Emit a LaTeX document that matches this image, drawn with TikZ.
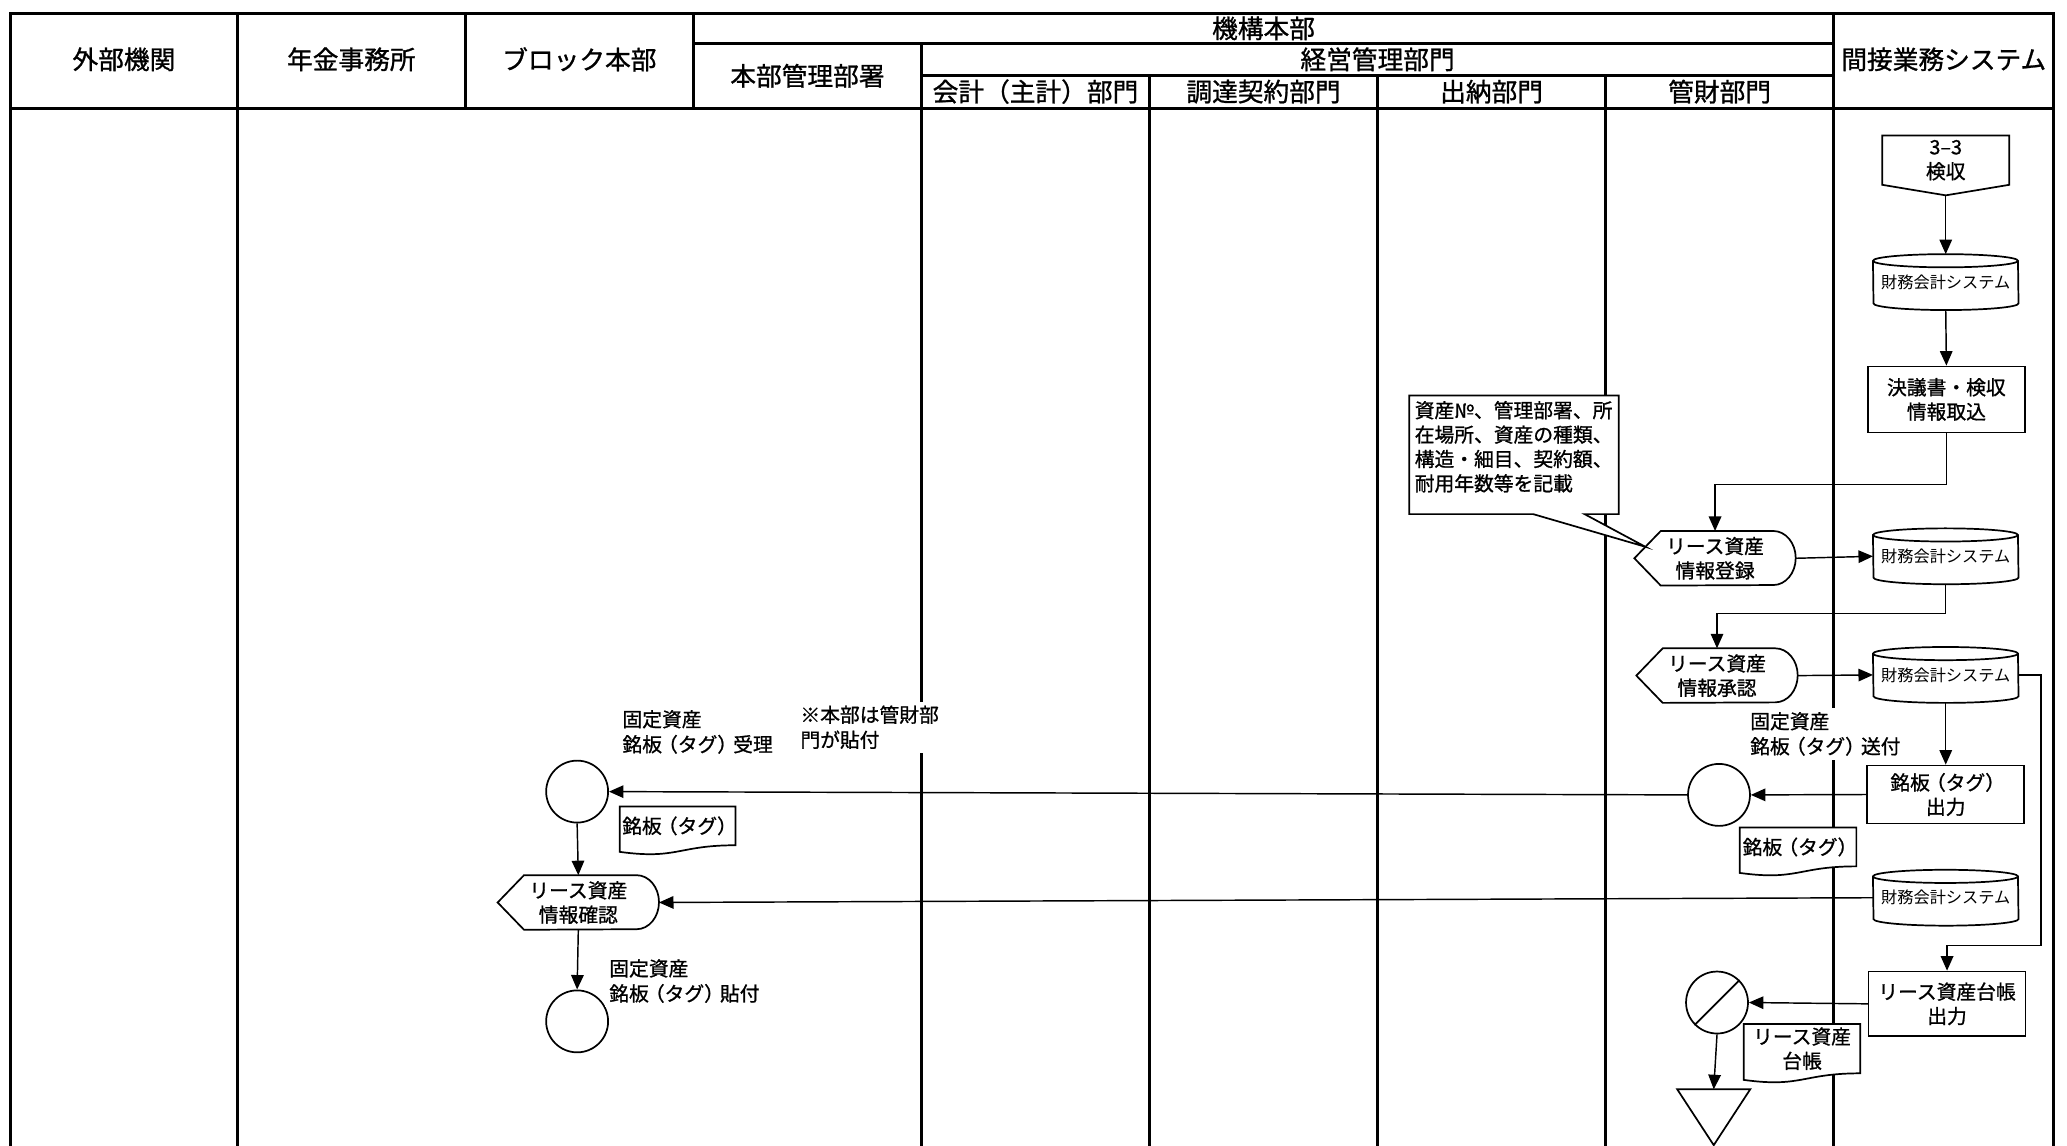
\documentclass[tikz,border=0pt]{standalone}
\usepackage{fontspec}
\setmainfont{Noto Sans CJK JP}[FakeBold=1.0]
\newfontfamily\thinjp{Noto Sans CJK JP}
\usetikzlibrary{arrows.meta,calc}
\pgfdeclarelayer{back}
\pgfdeclarelayer{mid}
\pgfsetlayers{back,mid,main}
\newcommand\myLP{\kern-3pt（}
\newcommand\myRP{）\kern-3pt}
\tikzset{
  lane/.style={line width=2.2pt,line join=miter},
  conn/.style={line width=1.1pt},
  arr/.style={conn,-{Triangle[length=11pt,width=9.5pt]}},
  shp/.style={line width=1.3pt,fill=white,line join=miter},
  hdr/.style={font=\fontsize{19.5}{22}\selectfont,inner sep=0pt},
  box/.style={draw,line width=1.3pt,fill=white,font=\fontsize{15}{18.5}\selectfont,align=center,inner sep=0pt,minimum width=119pt,minimum height=#1},
  slot/.style={inner sep=0pt,font=\fontsize{15}{18.5}\selectfont,align=center},
  sys/.style={inner sep=0pt,font=\thinjp\fontsize{12.3}{14}\selectfont,minimum width=110pt,minimum height=42pt},
  lbl/.style={fill=white,inner sep=3pt,font=\fontsize{15}{19}\selectfont,align=left,anchor=north west},
  circ/.style={circle,draw,line width=1.3pt,fill=white,minimum size=47pt,inner sep=0pt},
}
\newcommand\mkcyl[1]{\begin{pgfonlayer}{mid}
  \draw[shp] ([yshift=-5pt]#1.north west) arc[start angle=180,end angle=0,x radius=55pt,y radius=5pt]
    -- ([yshift=5pt]#1.south east) arc[start angle=0,end angle=-180,x radius=55pt,y radius=5pt] -- cycle;
  \draw[shp,fill=none] ([yshift=-5pt]#1.north west) arc[start angle=180,end angle=360,x radius=55pt,y radius=5pt];
\end{pgfonlayer}}
\newcommand\mkdisp[1]{\begin{pgfonlayer}{mid}
  \draw[shp] (#1.west) -- ([xshift=20pt]#1.north west) -- ([xshift=-17pt]#1.north east)
    arc[start angle=90,end angle=-90,x radius=17pt,y radius=20.5pt] -- ([xshift=20pt]#1.south west) -- cycle;
\end{pgfonlayer}}
\newcommand\mkdoc[1]{\begin{pgfonlayer}{mid}
  \draw[shp] (#1.north west) -- (#1.north east) -- (#1.south east)
    .. controls (#1.south) and ([yshift=-11pt]#1.south) .. ([yshift=-5pt]#1.south west) -- cycle;
\end{pgfonlayer}}
\newcommand\mkoff[1]{\begin{pgfonlayer}{mid}
  \draw[shp] (#1.north west) -- (#1.north east) -- (#1.south east) -- ([yshift=-8pt]#1.south) -- (#1.south west) -- cycle;
\end{pgfonlayer}}
\newcommand\mktri[1]{\begin{pgfonlayer}{mid}
  \draw[shp] (#1.north west) -- (#1.north east) -- (#1.south) -- cycle;
\end{pgfonlayer}}
\begin{document}
\begin{tikzpicture}[x=1pt,y=-1pt]
\begin{pgfonlayer}{back}
\fill[white] (0,0) rectangle (1568,869);
\end{pgfonlayer}
\useasboundingbox (0,0) rectangle (1568,869);
% ---------- lanes ----------
\begin{pgfonlayer}{back}
\draw[lane] (8,872) -- (8,10) -- (1558,10) -- (1558,872);
\draw[lane] (8,82) -- (1558,82);
\draw[lane] (180,10) -- (180,872);
\draw[lane] (353,10) -- (353,82);
\draw[lane] (526,10) -- (526,82);
\draw[lane] (526,33) -- (1391,33);
\draw[lane] (699,57) -- (1391,57);
\draw[lane] (699,33) -- (699,872);
\draw[lane] (872,57) -- (872,872);
\draw[lane] (1045,57) -- (1045,872);
\draw[lane] (1218,57) -- (1218,872);
\draw[lane] (1391,10) -- (1391,872);
\end{pgfonlayer}
% ---------- headers ----------
\node[hdr] (hA) at (94,45) {外部機関};
\node[hdr] (hB) at (266.5,45) {年金事務所};
\node[hdr] (hC) at (439.5,45) {ブロック本部};
\node[hdr] (hD) at (612.5,57.5) {本部管理部署};
\node[hdr] (hE) at (958.5,21.5) {機構本部};
\node[hdr] (hF) at (1045,45) {経営管理部門};
\node[hdr] (hG) at (785.5,69.5) {会計（主計）部門};
\node[hdr] (hH) at (958.5,69.5) {調達契約部門};
\node[hdr] (hI) at (1131.5,69.5) {出納部門};
\node[hdr] (hJ) at (1304.5,69.5) {管財部門};
\node[hdr] (hK) at (1474.5,45) {間接業務システム};
% ---------- right column ----------
\node[slot,minimum width=96pt,minimum height=37pt] (op) at (1476,121.5) {3–3\\検収};
\mkoff{op}
\coordinate (opTip) at ([yshift=-8pt]op.south);
\node[sys] (cy1) at (1476,214) {財務会計システム}; \mkcyl{cy1}
\node[box=50pt] (b1) at (1476.5,303) {決議書・検収\\情報取込};
\node[slot,minimum width=122pt,minimum height=41pt] (h1) at (1301,423.5) {リース資産\\情報登録}; \mkdisp{h1}
\node[sys] (cy2) at (1476,422) {財務会計システム}; \mkcyl{cy2}
\node[slot,minimum width=122pt,minimum height=41pt] (h2) at (1302.5,512.5) {リース資産\\情報承認}; \mkdisp{h2}
\node[sys] (cy3) at (1476,512) {財務会計システム}; \mkcyl{cy3}
\node[box=44pt] (b2) at (1476,602.7) {銘板\myLP タグ\myRP\\出力};
\node[circ] (ci2) at (1304,603) {};
\node[slot,minimum width=88pt,minimum height=29pt] (d2) at (1364,642.5) {銘板\myLP タグ\myRP}; \mkdoc{d2}
\node[sys] (cy4) at (1476,681) {財務会計システム}; \mkcyl{cy4}
\node[box=49pt] (b3) at (1477,761.5) {リース資産台帳\\出力};
\node[circ] (cs) at (1302.5,760.5) {};
\draw[line width=1.3pt] (cs.south west) -- (cs.north east);
\node[slot,minimum width=88pt,minimum height=37pt] (d3) at (1367,795.5) {リース資産\\台帳}; \mkdoc{d3}
\node[inner sep=0pt,minimum width=55pt,minimum height=42pt] (tri) at (1300,847.5) {}; \mktri{tri}
% ---------- callout ----------
\coordinate (cbTip) at ($(h1.west)!0.42!([xshift=20pt]h1.north west)$);
\begin{pgfonlayer}{mid}
\draw[shp] (1069,300) -- (1228,300) -- (1228,390) -- (1202,390) -- (cbTip) -- (1163,390) -- (1069,390) -- cycle;
\end{pgfonlayer}
\node[slot,align=left,anchor=north west] (ct) at (1073,304) {資産№、管理部署、所\\在場所、資産の種類、\\構造・細目、契約額、\\耐用年数等を記載};
% ---------- left part ----------
\node[circ] (ci1) at (437.8,600.5) {};
\node[slot,minimum width=87.5pt,minimum height=29pt] (d1) at (514,626.5) {銘板\myLP タグ\myRP}; \mkdoc{d1}
\node[slot,minimum width=122pt,minimum height=41pt] (h3) at (438.7,684.6) {リース資産\\情報確認}; \mkdisp{h3}
\node[circ] (ci3) at (437.8,774.8) {};
% ---------- labels ----------
\node[lbl] (l1) at (469,535.5) {固定資産\\銘板\myLP タグ\myRP 受理};
\node[lbl] (nt) at (604,532) {※本部は管財部\\門が貼付};
\node[lbl] (l2) at (1324.5,537) {固定資産\\銘板\myLP タグ\myRP 送付};
\node[lbl] (l3) at (459,724.5) {固定資産\\銘板\myLP タグ\myRP 貼付};
% ---------- connectors ----------
\draw[arr] (opTip) -- (cy1.north);
\draw[arr] (cy1.south) -- (b1.north);
\draw[arr] (b1.south) -- ++(0,39) -| (h1.north);
\draw[arr] (h1.east) -- (cy2.west);
\draw[arr] (cy2.south) -- ++(0,22) -| (h2.north);
\draw[arr] (h2.east) -- (cy3.west);
\draw[arr] (cy3.south) -- (b2.north);
\draw[arr] (cy3.east) -- ++(17,0) |- ([yshift=19pt]b3.north) -- (b3.north);
\draw[arr] (b2.west) -- (ci2.east);
\draw[arr] (ci2.west) -- (ci1.east);
\draw[arr] (ci1.south) -- (h3.north);
\draw[arr] (cy4.west) -- (h3.east);
\draw[arr] (h3.south) -- (ci3.north);
\draw[arr] (b3.west) -- (cs.east);
\draw[arr] (cs.south) -- (tri.north);
\end{tikzpicture}
\end{document}
